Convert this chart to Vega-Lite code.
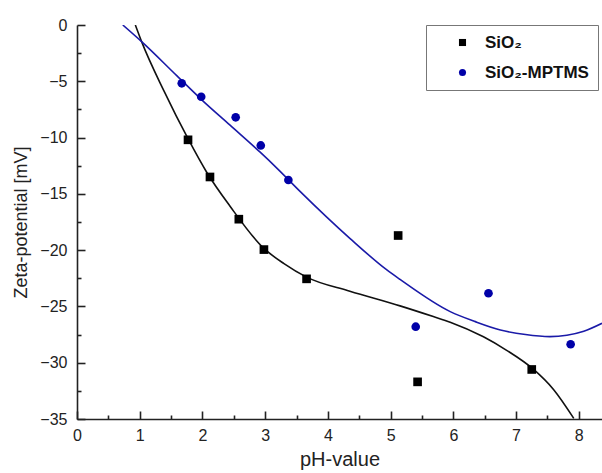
{
  "$schema": "https://vega.github.io/schema/vega-lite/v6.json",
  "autosize": {"type": "none"},
  "width": 525,
  "height": 394,
  "padding": {"left": 77, "top": 25, "right": 0, "bottom": 54},
  "background": "white",
  "config": {
    "view": {"stroke": null},
    "font": "Liberation Sans",
    "axis": {
      "domainColor": "#222",
      "domainWidth": 1.6,
      "tickColor": "#222",
      "tickWidth": 1.6,
      "labelFont": "Liberation Sans",
      "labelFontSize": 16,
      "labelColor": "#222",
      "titleFont": "Liberation Sans",
      "titleFontWeight": "normal",
      "titleColor": "#222",
      "grid": false
    }
  },
  "resolve": {"axis": {"x": "independent", "y": "independent"}},
  "datasets": {
    "pts": [
      {"ph": 1.77, "zeta": -10.2, "sample": "SiO₂"},
      {"ph": 2.12, "zeta": -13.5, "sample": "SiO₂"},
      {"ph": 2.58, "zeta": -17.25, "sample": "SiO₂"},
      {"ph": 2.98, "zeta": -19.95, "sample": "SiO₂"},
      {"ph": 3.66, "zeta": -22.55, "sample": "SiO₂"},
      {"ph": 5.12, "zeta": -18.7, "sample": "SiO₂"},
      {"ph": 5.43, "zeta": -31.7, "sample": "SiO₂"},
      {"ph": 7.25, "zeta": -30.6, "sample": "SiO₂"},
      {"ph": 1.67, "zeta": -5.18, "sample": "SiO₂-MPTMS"},
      {"ph": 1.98, "zeta": -6.37, "sample": "SiO₂-MPTMS"},
      {"ph": 2.53, "zeta": -8.2, "sample": "SiO₂-MPTMS"},
      {"ph": 2.93, "zeta": -10.7, "sample": "SiO₂-MPTMS"},
      {"ph": 3.37, "zeta": -13.77, "sample": "SiO₂-MPTMS"},
      {"ph": 5.4, "zeta": -26.8, "sample": "SiO₂-MPTMS"},
      {"ph": 6.56, "zeta": -23.83, "sample": "SiO₂-MPTMS"},
      {"ph": 7.87, "zeta": -28.36, "sample": "SiO₂-MPTMS"}
    ],
    "fits": [
      {"ph": 0.93, "zeta": 0, "fit": "SiO2 fit"},
      {"ph": 1.03, "zeta": -1.48, "fit": "SiO2 fit"},
      {"ph": 1.39, "zeta": -5.9, "fit": "SiO2 fit"},
      {"ph": 1.77, "zeta": -10.1, "fit": "SiO2 fit"},
      {"ph": 2.07, "zeta": -13.1, "fit": "SiO2 fit"},
      {"ph": 2.44, "zeta": -16.1, "fit": "SiO2 fit"},
      {"ph": 2.97, "zeta": -19.8, "fit": "SiO2 fit"},
      {"ph": 3.3, "zeta": -21.2, "fit": "SiO2 fit"},
      {"ph": 3.66, "zeta": -22.4, "fit": "SiO2 fit"},
      {"ph": 4.35, "zeta": -23.65, "fit": "SiO2 fit"},
      {"ph": 5.15, "zeta": -24.95, "fit": "SiO2 fit"},
      {"ph": 5.68, "zeta": -25.9, "fit": "SiO2 fit"},
      {"ph": 5.95, "zeta": -26.4, "fit": "SiO2 fit"},
      {"ph": 6.48, "zeta": -27.7, "fit": "SiO2 fit"},
      {"ph": 6.85, "zeta": -28.9, "fit": "SiO2 fit"},
      {"ph": 7.28, "zeta": -30.6, "fit": "SiO2 fit"},
      {"ph": 7.6, "zeta": -32.4, "fit": "SiO2 fit"},
      {"ph": 7.92, "zeta": -34.95, "fit": "SiO2 fit"},
      {"ph": 0.73, "zeta": 0, "fit": "MPTMS fit"},
      {"ph": 1.03, "zeta": -1.48, "fit": "MPTMS fit"},
      {"ph": 1.59, "zeta": -4.5, "fit": "MPTMS fit"},
      {"ph": 1.98, "zeta": -6.6, "fit": "MPTMS fit"},
      {"ph": 2.44, "zeta": -8.9, "fit": "MPTMS fit"},
      {"ph": 2.92, "zeta": -11.3, "fit": "MPTMS fit"},
      {"ph": 3.19, "zeta": -12.73, "fit": "MPTMS fit"},
      {"ph": 3.56, "zeta": -14.8, "fit": "MPTMS fit"},
      {"ph": 4.35, "zeta": -18.95, "fit": "MPTMS fit"},
      {"ph": 4.94, "zeta": -21.76, "fit": "MPTMS fit"},
      {"ph": 5.15, "zeta": -22.6, "fit": "MPTMS fit"},
      {"ph": 5.95, "zeta": -25.46, "fit": "MPTMS fit"},
      {"ph": 6.35, "zeta": -26.35, "fit": "MPTMS fit"},
      {"ph": 6.75, "zeta": -27.09, "fit": "MPTMS fit"},
      {"ph": 7.15, "zeta": -27.5, "fit": "MPTMS fit"},
      {"ph": 7.54, "zeta": -27.68, "fit": "MPTMS fit"},
      {"ph": 8.08, "zeta": -27.2, "fit": "MPTMS fit"},
      {"ph": 8.37, "zeta": -26.5, "fit": "MPTMS fit"}
    ]
  },
  "layer": [
    {
      "mark": {"type": "rule", "color": "#222", "strokeWidth": 1.6},
      "encoding": {
        "x": {
          "datum": 0, "type": "quantitative",
          "scale": {"domain": [0, 8.37], "nice": false, "zero": false},
          "axis": {
            "orient": "bottom",
            "values": [0.5, 1.5, 2.5, 3.5, 4.5, 5.5, 6.5, 7.5],
            "labels": false, "domain": false, "title": null, "tickSize": -4
          }
        },
        "x2": {"datum": 8.37},
        "y": {
          "datum": 0, "type": "quantitative",
          "scale": {"domain": [-35, 0], "nice": false, "zero": false},
          "axis": {
            "orient": "left",
            "values": [-32.5, -27.5, -22.5, -17.5, -12.5, -7.5, -2.5],
            "labels": false, "domain": false, "title": null, "tickSize": -4
          }
        }
      }
    },
    {
      "data": {"name": "fits"},
      "mark": {"type": "line", "interpolate": "monotone", "strokeWidth": 1.6, "clip": true},
      "encoding": {
        "x": {
          "field": "ph", "type": "quantitative",
          "axis": {
            "orient": "bottom",
            "title": "pH-value",
            "titleFontSize": 20,
            "titleColor": "#222",
            "values": [0, 1, 2, 3, 4, 5, 6, 7, 8],
            "format": "d",
            "tickSize": -8,
            "labelPadding": 16,
            "titlePadding": 6,
            "labelFlush": false
          }
        },
        "y": {
          "field": "zeta", "type": "quantitative",
          "axis": {
            "orient": "left",
            "title": "Zeta-potential [mV]",
            "titleFontSize": 18,
            "titleColor": "#222",
            "values": [-35, -30, -25, -20, -15, -10, -5, 0],
            "format": "d",
            "tickSize": -8,
            "labelPadding": 18,
            "titlePadding": 9,
            "labelFlush": false
          }
        },
        "detail": {"field": "fit"},
        "stroke": {
          "field": "fit", "type": "nominal",
          "scale": {"domain": ["SiO2 fit", "MPTMS fit"], "range": ["#111111", "#1a1aa8"]},
          "legend": null
        }
      }
    },
    {
      "data": {"name": "pts"},
      "mark": {"type": "point", "filled": true, "opacity": 1, "size": 75, "clip": true},
      "encoding": {
        "x": {"field": "ph", "type": "quantitative", "axis": null},
        "y": {"field": "zeta", "type": "quantitative", "axis": null},
        "shape": {
          "field": "sample", "type": "nominal",
          "scale": {"domain": ["SiO₂", "SiO₂-MPTMS"], "range": ["square", "circle"]}
        },
        "color": {
          "field": "sample", "type": "nominal",
          "scale": {"domain": ["SiO₂", "SiO₂-MPTMS"], "range": ["#000000", "#0000a8"]},
          "legend": {
            "title": null,
            "orient": "none",
            "legendX": 349,
            "legendY": 0,
            "labelFont": "Liberation Sans",
            "labelFontSize": 17,
            "labelFontWeight": "bold",
            "labelColor": "#111",
            "labelExpr": "datum.label + '\u00a0\u00a0\u00a0\u00a0\u00a0\u00a0\u00a0\u00a0\u00a0\u00a0'",
            "labelLimit": 400,
            "symbolSize": 50,
            "symbolStrokeWidth": 0,
            "symbolOffset": 19,
            "labelOffset": 14,
            "rowPadding": 12,
            "padding": 9,
            "strokeColor": "#777",
            "fillColor": "white"
          }
        }
      }
    }
  ]
}
